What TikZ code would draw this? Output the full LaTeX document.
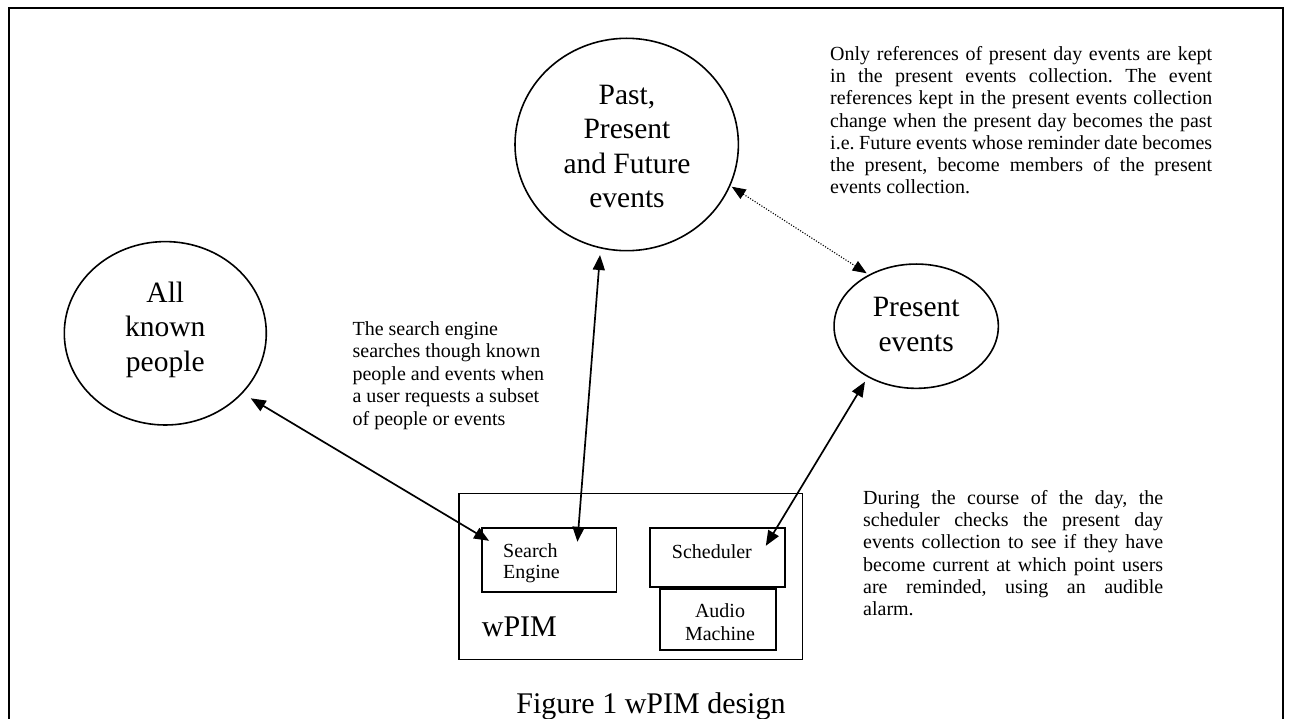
\documentclass[tikz,border=0pt]{standalone}
\usepackage{fontspec}
\setmainfont{Liberation Serif}
\usetikzlibrary{arrows.meta,shapes.geometric,calc}
\newcommand\jline[2]{\makebox[#1][s]{#2}}
\frenchspacing
\begin{document}
\begin{tikzpicture}[x=1pt,y=-1pt,
  bubble/.style={draw, ellipse, line width=1.6pt, inner sep=0pt},
  box/.style={draw, rectangle, line width=1.8pt, inner sep=0pt},
  txt/.style={inner sep=0pt, anchor=base west},
  ctxt/.style={inner sep=0pt, anchor=base},
  link/.style={line width=1.7pt, {Triangle[length=15pt,width=12pt]}-{Triangle[length=15pt,width=12pt]}},
  dotlink/.style={line width=1.1pt, dash pattern=on 1.1pt off 1.6pt, {Triangle[length=14pt,width=11pt]}-{Triangle[length=14pt,width=11pt]}},
]
\useasboundingbox (0,0) rectangle (1294,719);
\clip (0,0) rectangle (1294,719);
\fill[white] (0,0) rectangle (1294,719);
% frame
\draw[line width=2.2pt] (9,730) -- (9,8) -- (1283,8) -- (1283,730);

% ellipses
\node[bubble, minimum width=223.4pt, minimum height=212.4pt] (past) at (626.7,144.5) {};
\node[bubble, minimum width=202pt, minimum height=183.4pt] (people) at (165.3,333.3) {};
\node[bubble, minimum width=164.3pt, minimum height=124.3pt] (present) at (916.2,326.2) {};

\node[ctxt] (pasttxt) at (627,104.5) {\parbox[t]{200pt}{\centering\fontsize{29.5pt}{34.3pt}\selectfont Past,\\Present\\and Future\\events}};
\node[ctxt] (peopletxt) at (165.3,302.5) {\parbox[t]{150pt}{\centering\fontsize{29.5pt}{34.3pt}\selectfont All\\known\\people}};
\node[ctxt] (presenttxt) at (916.2,317) {\parbox[t]{150pt}{\centering\fontsize{29.5pt}{34.3pt}\selectfont Present\\events}};

% boxes
\node[box, minimum width=343.5pt, minimum height=166pt] (wpim) at (630.75,576.5) {};
\node[box, minimum width=134.5pt, minimum height=64pt] (search) at (549.25,560) {};
\node[box, minimum width=135pt, minimum height=59pt] (sched) at (717.5,557.5) {};
\node[box, minimum width=116pt, minimum height=61pt] (audio) at (718,619.5) {};

\node[txt] (searchtxt) at (503,557) {\parbox[t]{100pt}{\raggedright\fontsize{20pt}{21.8pt}\selectfont Search\\Engine}};
\node[txt] (schedtxt) at (671.7,558) {\fontsize{20pt}{22pt}\selectfont Scheduler};
\node[ctxt] (audiotxt) at (720,617.5) {\parbox[t]{100pt}{\centering\fontsize{20pt}{23pt}\selectfont Audio\\Machine}};
\node[txt] (wpimtxt) at (481.7,636) {\fontsize{30pt}{36pt}\selectfont wPIM};

% annotations
\node[txt] (note1) at (830,60.5) {\parbox[t]{382pt}{\fontsize{20pt}{22.2pt}\selectfont
\jline{382pt}{Only references of present day events are kept}\\
\jline{382pt}{in the present events collection. The event}\\
\jline{382pt}{references kept in the present events collection}\\
\jline{382pt}{change when the present day becomes the past}\\
\jline{382pt}{i.e. Future events whose reminder date becomes}\\
\jline{382pt}{the present, become members of the present}\\
events collection.}};

\node[txt] (note2) at (352.4,335.5) {\parbox[t]{250pt}{\raggedright\fontsize{20pt}{22.5pt}\selectfont
The search engine\\
searches though known\\
people and events when\\
a user requests a subset\\
of people or events}};

\node[txt] (note3) at (863,504.3) {\parbox[t]{300pt}{\fontsize{20pt}{22.3pt}\selectfont
\jline{300pt}{During the course of the day, the}\\
\jline{300pt}{scheduler checks the present day}\\
\jline{300pt}{events collection to see if they have}\\
\jline{300pt}{become current at which point users}\\
\jline{300pt}{are reminded, using an audible}\\
alarm.}};

% caption
\node[ctxt] (caption) at (651,713) {\fontsize{30pt}{36pt}\selectfont Figure 1 wPIM design};

% connectors
\draw[link] ($(people.center)+(85.4,65)$) -- ($(search.north west)+(8,13.7)$);
\draw[link] ($(past.center)+(-26.7,110.5)$) -- ($(search.north west)+(96.3,14.7)$);
\draw[dotlink] ($(past.center)+(105,42.2)$) -- ($(present.center)+(-49.5,-52.9)$);
\draw[link] ($(present.center)+(-51.2,55.5)$) -- ($(sched.north west)+(116.7,18.7)$);
\end{tikzpicture}
\end{document}
